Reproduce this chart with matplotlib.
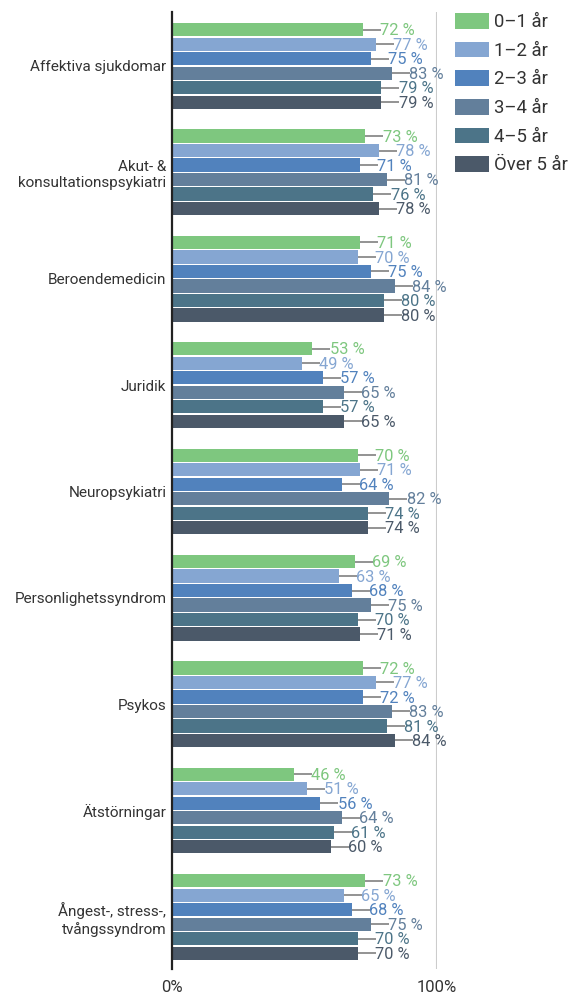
import matplotlib
matplotlib.use("Agg")
import matplotlib.pyplot as plt
from matplotlib.patches import Patch
import numpy as np

plt.rcParams['font.family'] = ['Roboto', 'DejaVu Sans']

categories = ["Affektiva sjukdomar", "Akut- &\nkonsultationspsykiatri", "Beroendemedicin",
              "Juridik", "Neuropsykiatri", "Personlighetssyndrom", "Psykos",
              "Ätstörningar", "Ångest-, stress-,\ntvångssyndrom"]
series_names = ["0–1 år", "1–2 år", "2–3 år", "3–4 år", "4–5 år", "Över 5 år"]
values = {
    "0–1 år":    [72, 73, 71, 53, 70, 69, 72, 46, 73],
    "1–2 år":    [77, 78, 70, 49, 71, 63, 77, 51, 65],
    "2–3 år":    [75, 71, 75, 57, 64, 68, 72, 56, 68],
    "3–4 år":    [83, 81, 84, 65, 82, 75, 83, 64, 75],
    "4–5 år":    [79, 76, 80, 57, 74, 70, 81, 61, 70],
    "Över 5 år": [79, 78, 80, 65, 74, 71, 84, 60, 70],
}
colors = ["#7ec77f", "#85a6d2", "#5182bd", "#637f9b", "#4c7488", "#4b5969"]

W, H = 569, 994
fig = plt.figure(figsize=(W / 100, H / 100), dpi=100)
ax = fig.add_axes([172 / W, (H - 969) / H, (437 - 172) / W, (969 - 12) / H])

pitch = 14.5 / 106.4
bar_h = 13.2 / 106.4
n = len(series_names)
y0 = np.arange(len(categories))
px_per_unit = 265 / 100
lead = 18 / px_per_unit

for j, (name, col) in enumerate(zip(series_names, colors)):
    ys = y0 + (j - (n - 1) / 2) * pitch
    vals = values[name]
    ax.barh(ys, vals, height=bar_h, color=col, zorder=2)
    for y, v in zip(ys, vals):
        ax.plot([v, v + lead], [y, y], color="#8a8a8a", lw=1.3, zorder=1,
                clip_on=False, solid_capstyle="butt")
        ax.text(v + lead - 0.3, y + 0.01, f"{v} %", color=col, fontsize=11.8,
                ha="left", va="center", clip_on=False, zorder=3)

ax.set_ylim(len(categories) - 1 + 0.489, -0.507)
ax.set_xlim(0, 100)
ax.axvline(100, color="#cccccc", lw=1.5, zorder=0)

for s in ["top", "right", "bottom"]:
    ax.spines[s].set_visible(False)
ax.spines["left"].set_color("#222222")
ax.spines["left"].set_linewidth(1.6)

ax.set_yticks(y0)
ax.set_yticklabels(categories, fontsize=11, color="#333333")
ax.tick_params(axis="y", length=0, pad=4)
ax.set_xticks([0, 100])
ax.set_xticklabels(["0%", "100%"], fontsize=12, color="#333333")
ax.tick_params(axis="x", length=0, pad=8)

handles = [Patch(facecolor=c, edgecolor="none") for c in colors]
lfs = 13.3
fs = lfs * 100 / 72
leg = fig.legend(handles, series_names, loc="upper left",
                 bbox_to_anchor=(455 / W, 1 - 13 / H), bbox_transform=fig.transFigure,
                 frameon=False, fontsize=lfs, borderpad=0, borderaxespad=0,
                 handlelength=34 / fs, handleheight=17 / fs, handletextpad=5 / fs,
                 labelspacing=(29.0 - 18.5) / fs)
for t in leg.get_texts():
    t.set_color("#333333")

fig.savefig("out.png", dpi=100, facecolor="white")
